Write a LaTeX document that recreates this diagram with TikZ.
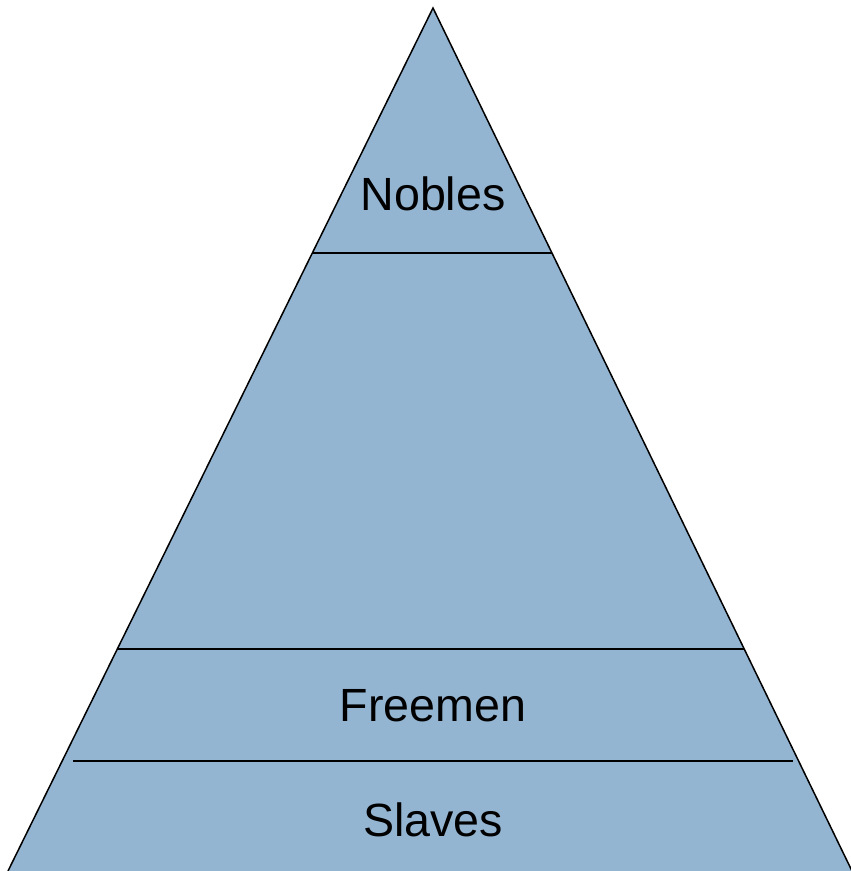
\documentclass[tikz,border=0pt]{standalone}
\usepackage{fontspec}
\setmainfont{Liberation Sans}
\usetikzlibrary{calc}
\definecolor{layerblue}{RGB}{148,181,210}
\begin{document}
\begin{tikzpicture}[
        x=0.5pt, y=-0.5pt,
        layer/.style ={fill=layerblue, draw=none},
        edge/.style  ={draw=black, line width=0.75pt},
        split/.style ={draw=black, line width=1pt},
        label/.style ={font=\fontsize{23.3}{27}\selectfont, text=black, inner sep=0pt},
    ]
    \useasboundingbox (0,0) rectangle (850,871);

    %% Pyramid outline
    \coordinate (apex)  at (433,   8);
    \coordinate (baseL) at (  8, 871);
    \coordinate (baseR) at (852, 871);
    \fill[layerblue] (apex) -- (baseR) -- (baseL) -- cycle;
    \draw[edge] (baseL) -- (apex) -- (baseR);

    %% Layer boundaries
    \draw[split] ($(apex)!0.284!(baseL)$) -- ($(apex)!0.284!(baseR)$);
    \draw[split] ($(apex)!0.743!(baseL)$) -- ($(apex)!0.743!(baseR)$);
    \coordinate (lowL) at ( 73, 761);
    \coordinate (lowR) at (793, 761);
    \draw[split] (lowL) -- (lowR);

    %% Layer names
    \node[label] (nobles)  at (433, 194) {Nobles};
    \node[label] (freemen) at (433, 706) {Freemen};
    \node[label] (slaves)  at (433, 820) {Slaves};
\end{tikzpicture}
\end{document}
